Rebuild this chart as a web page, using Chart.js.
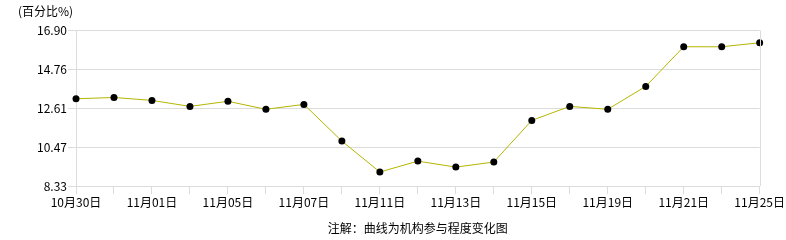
<!DOCTYPE html>
<html>
<head>
<meta charset="utf-8">
<title>机构参与程度</title>
<script src="https://cdn.jsdelivr.net/npm/chart.js@4/dist/chart.umd.min.js"></script>
<style>
    html, body { margin: 0; padding: 0; background: #fff; }
    #wrap { width: 786px; height: 240px; }
</style>
</head>
<body>
<div id="wrap"><canvas id="trend" width="786" height="240"></canvas></div>
<script>
    /* ===== Data ===== */
    var xLabels = [
        '10月30日', '', '11月01日', '', '11月05日', '', '11月07日', '', '11月11日', '',
        '11月13日', '', '11月15日', '', '11月19日', '', '11月21日', '', '11月25日'
    ];
    var participation = [
        13.14, 13.21, 13.05, 12.72, 13.00, 12.56, 12.83, 10.81, 9.11, 9.71,
        9.38, 9.66, 11.95, 12.72, 12.56, 13.82, 16.00, 16.00, 16.22
    ];
    var yTicks = [8.33, 10.47, 12.61, 14.76, 16.90];
    var unitLabel = '(百分比%)';
    var footNote = '注解：曲线为机构参与程度变化图';

    /* ===== Style ===== */
    var FONT = { family: "'Noto Sans CJK SC', 'DejaVu Sans', sans-serif", size: 12 };
    var GRID = '#dcdcdc';
    var LINE = '#b5b500';

    // right-hand frame line of the plot area
    var rightFrame = {
        id: 'rightFrame',
        afterDraw: function (chart) {
            var a = chart.chartArea, ctx = chart.ctx;
            ctx.save();
            ctx.strokeStyle = GRID;
            ctx.lineWidth = 1;
            ctx.beginPath();
            ctx.moveTo(Math.round(a.right) + 0.5, a.top);
            ctx.lineTo(Math.round(a.right) + 0.5, a.bottom);
            ctx.stroke();
            ctx.restore();
        }
    };

    new Chart(document.getElementById('trend'), {
        type: 'line',
        data: {
            labels: xLabels,
            datasets: [{
                data: participation,
                borderColor: LINE,
                borderWidth: 1,
                tension: 0,
                pointRadius: 3.5,
                pointHoverRadius: 4,
                pointBackgroundColor: '#000',
                pointBorderColor: '#000',
                pointBorderWidth: 0
            }]
        },
        options: {
            responsive: false,
            animation: false,
            layout: { padding: { left: 18, right: 26, top: 0, bottom: 0 } },
            plugins: {
                legend: { display: false },
                tooltip: { enabled: true },
                title: {
                    display: true,
                    text: unitLabel,
                    align: 'start',
                    color: '#000',
                    font: { family: FONT.family, size: 12, weight: 'normal' },
                    padding: { top: 4, bottom: 12 }
                }
            },
            scales: {
                x: {
                    offset: false,
                    grid: { drawOnChartArea: false, color: GRID, tickLength: 8 },
                    border: { color: GRID },
                    ticks: { autoSkip: false, maxRotation: 0, minRotation: 0, padding: 1, color: '#000', font: FONT },
                    title: {
                        display: true,
                        text: footNote,
                        color: '#000',
                        font: FONT,
                        padding: { top: 11, bottom: 4 }
                    }
                },
                y: {
                    min: yTicks[0],
                    max: yTicks[yTicks.length - 1],
                    afterBuildTicks: function (scale) {
                        scale.ticks = yTicks.map(function (v) { return { value: v }; });
                    },
                    afterFit: function (scale) { scale.width = 58; },
                    grid: { color: GRID, tickLength: 8 },
                    border: { color: GRID },
                    ticks: {
                        padding: 1,
                        color: '#000',
                        font: FONT,
                        callback: function (v) { return Number(v).toFixed(2); }
                    }
                }
            }
        },
        plugins: [rightFrame]
    });
</script>
</body>
</html>
